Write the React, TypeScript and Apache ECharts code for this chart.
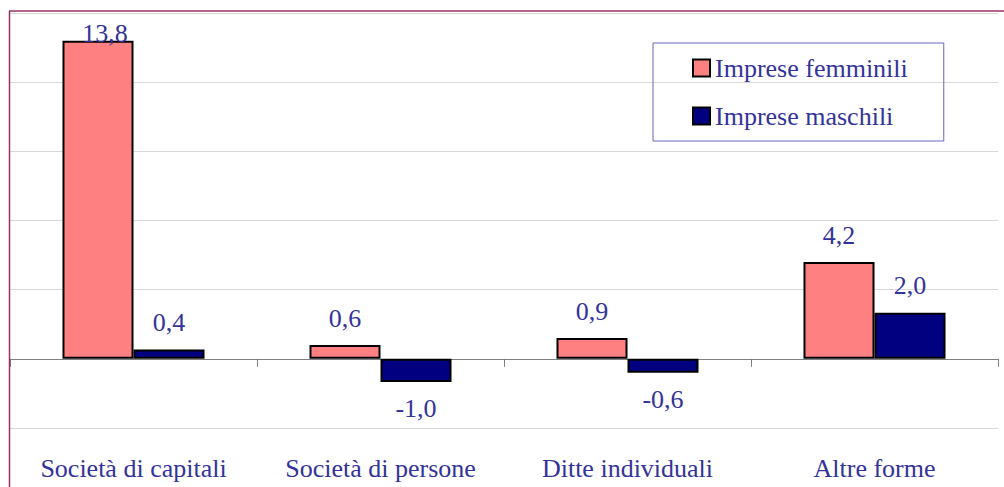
import React, { useEffect, useRef } from "react";
import * as echarts from "echarts";

const categories = ["Società di capitali", "Società di persone", "Ditte individuali", "Altre forme"];
const seriesNames = ["Imprese femminili", "Imprese maschili"];
const femminili = [13.8, 0.6, 0.9, 4.2];
const maschili = [0.4, -1.0, -0.6, 2.0];
const seriesColors = ["#FF8080", "#000080"];

const FONT = "Liberation Serif, Times New Roman, serif";
const TEXT_COLOR = "#333399";

function fmt(v: number) {
  return v.toFixed(1).replace(".", ",");
}

function buildData(values: number[], special?: { index: number; offset: [number, number]; distance: number }) {
  return values.map((v, i) => {
    const item: any = {
      value: v,
      label: { position: v >= 0 ? "top" : "bottom" },
    };
    if (special && special.index === i) {
      item.label.offset = special.offset;
      item.label.distance = special.distance;
    }
    return item;
  });
}

export default function App() {
  const ref = useRef<HTMLDivElement>(null);
  useEffect(() => {
    if (!ref.current) return;
    const chart = echarts.init(ref.current, undefined, { renderer: "svg" });
    const labelBase = {
      show: true,
      distance: 14,
      color: TEXT_COLOR,
      fontFamily: FONT,
      fontSize: 26,
      formatter: (p: any) => fmt(p.value),
    };
    chart.setOption({
      animation: false,
      backgroundColor: "#ffffff",
      textStyle: { fontFamily: FONT },
      grid: { left: 10, right: 6, top: 13, bottom: 59, containLabel: false },
      legend: {
        orient: "vertical",
        left: 653,
        top: 43,
        padding: [12, 36, 12, 39],
        itemGap: 22,
        itemWidth: 17,
        itemHeight: 17,
        icon: "rect",
        borderColor: "#6666bb",
        borderWidth: 1,
        textStyle: { color: TEXT_COLOR, fontFamily: FONT, fontSize: 26 },
        data: seriesNames,
      },
      xAxis: [
        {
          type: "category",
          data: categories,
          axisLine: { onZero: true, lineStyle: { color: "#808080", width: 1 } },
          axisTick: { show: true, length: 8, lineStyle: { color: "#808080" } },
          axisLabel: { show: false },
        },
        {
          type: "category",
          data: categories,
          position: "bottom",
          axisLine: { show: false, onZero: false },
          axisTick: { show: false },
          axisLabel: {
            show: true,
            interval: 0,
            margin: 27,
            color: TEXT_COLOR,
            fontFamily: FONT,
            fontSize: 26,
          },
        },
      ],
      yAxis: {
        type: "value",
        min: -3,
        max: 15,
        interval: 3,
        axisLine: { show: false },
        axisTick: { show: false },
        axisLabel: { show: false },
        splitLine: { show: true, lineStyle: { color: "#d9d9d9", width: 1 } },
      },
      series: [
        {
          name: seriesNames[0],
          type: "bar",
          xAxisIndex: 0,
          barGap: "0%",
          barCategoryGap: "42.5%",
          itemStyle: { color: seriesColors[0], borderColor: "#000000", borderWidth: 2 },
          label: labelBase,
          data: buildData(femminili, { index: 0, offset: [7, 0], distance: -6 }),
        },
        {
          name: seriesNames[1],
          type: "bar",
          xAxisIndex: 0,
          barGap: "0%",
          barCategoryGap: "42.5%",
          itemStyle: { color: seriesColors[1], borderColor: "#000000", borderWidth: 2 },
          label: labelBase,
          data: buildData(maschili),
        },
      ],
      graphic: [
        {
          type: "line",
          shape: { x1: 9.5, y1: 11, x2: 9.5, y2: 487 },
          style: { stroke: "#993366", lineWidth: 1.5 },
          z: 100,
        },
        {
          type: "line",
          shape: { x1: 9, y1: 11, x2: 1004, y2: 11 },
          style: { stroke: "#993366", lineWidth: 1.5 },
          z: 100,
        },
      ],
    });
    return () => chart.dispose();
  }, []);
  return (
    <div
      ref={ref}
      style={{ position: "fixed", left: 0, top: 0, width: 1004, height: 487 }}
    />
  );
}
